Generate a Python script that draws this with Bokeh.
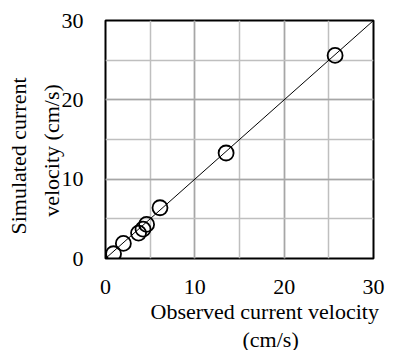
from bokeh.plotting import figure
from bokeh.models import Range1d, SingleIntervalTicker, FixedTicker, Title, LinearAxis
from bokeh.embed import file_html
from bokeh.resources import INLINE

observed = [0.9, 2.0, 3.7, 4.2, 4.6, 6.1, 13.5, 25.7]
simulated = [0.6, 1.9, 3.2, 3.7, 4.3, 6.4, 13.3, 25.6]
line_x = [0, 30]
line_y = [0, 30]

FONT = "'Liberation Serif', 'Times New Roman', serif"

p = figure(width=390, height=346, frame_width=268, frame_height=238,
           min_border_left=105, min_border_right=17, min_border_top=20, min_border_bottom=88,
           x_range=Range1d(0, 30), y_range=Range1d(0, 30),
           output_backend="svg", toolbar_location=None)
p.background_fill_color = "white"
p.border_fill_color = "white"
p.outline_line_color = "black"
p.outline_line_width = 2

for ax in (p.xaxis[0], p.yaxis[0]):
    ax.ticker = SingleIntervalTicker(interval=10, num_minor_ticks=2)
    ax.major_tick_line_color = None
    ax.minor_tick_line_color = None
    ax.axis_line_color = None
    ax.major_label_text_font = FONT
    ax.major_label_text_font_size = "22px"
    ax.major_label_text_color = "black"
p.xaxis[0].major_label_standoff = 15
p.yaxis[0].major_label_standoff = 16

lab = dict(axis_label_text_font=FONT, axis_label_text_font_size="22px",
           axis_label_text_color="black", axis_label_text_font_style="normal")
p.yaxis[0].axis_label = "velocity (cm/s)" + "\u00a0" * 4
p.yaxis[0].axis_label_standoff = -5
for k, v in lab.items():
    setattr(p.yaxis[0], k, v)

outer = LinearAxis(ticker=FixedTicker(ticks=[]), axis_label="Simulated current" + "\u00a0" * 6,
                   axis_label_standoff=5, major_label_standoff=0,
                   major_tick_line_color=None, minor_tick_line_color=None,
                   axis_line_color=None, **lab)
p.add_layout(outer, "left")

for g in (p.xgrid[0], p.ygrid[0]):
    g.grid_line_color = "#a6a6a6"
    g.grid_line_width = 1.5
    g.minor_grid_line_color = "#bfbfbf"
    g.minor_grid_line_width = 1.5

p.line(line_x, line_y, line_color="black", line_width=1)
p.scatter(observed, simulated, marker="circle", size=15, fill_color=None,
          line_color="black", line_width=1.8)

tstyle = dict(text_font=FONT, text_font_size="22px", text_color="black",
              text_font_style="normal", align="left")
p.add_layout(Title(text="Observed current velocity", offset=45, standoff=0, **tstyle), "below")
p.add_layout(Title(text="(cm/s)", offset=137, standoff=2, **tstyle), "below")

open("out.html", "w").write(file_html(p, INLINE))
